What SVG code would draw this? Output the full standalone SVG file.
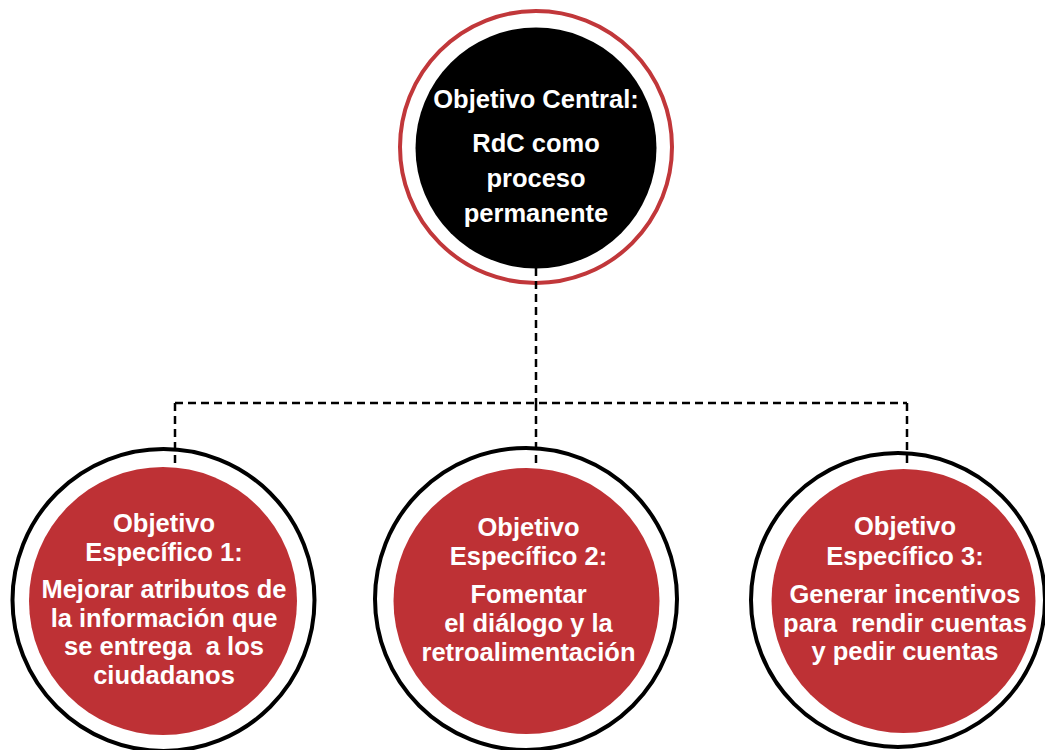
<svg xmlns="http://www.w3.org/2000/svg" width="1045" height="750" viewBox="0 0 1045 750">
  <style>
    .t { font-family: "Liberation Sans", Arial, sans-serif; font-weight: bold; font-size: 25.5px; fill: #ffffff; text-anchor: middle; }
    .ring { fill: #ffffff; stroke: #000000; stroke-width: 4; }
    .core { fill: #BE3135; }
    .conn { fill: none; stroke: #000000; stroke-width: 2.5; stroke-dasharray: 8 5; }
  </style>
  <rect width="1045" height="750" fill="#ffffff"/>
  <g id="central">
    <circle cx="536" cy="147" r="136" fill="#ffffff" stroke="#C1373A" stroke-width="4"/>
    <circle cx="536" cy="148" r="120.5" fill="#000000"/>
    <text class="t" x="536" y="108">Objetivo Central:</text>
    <text class="t" x="536" y="152">RdC como</text>
    <text class="t" x="536" y="187">proceso</text>
    <text class="t" x="536" y="222">permanente</text>
  </g>
  <g id="especifico1">
    <circle class="ring" cx="163.5" cy="600" r="151"/>
    <circle class="core" cx="163" cy="601" r="134"/>
    <text class="t" x="164" y="532">Objetivo</text>
    <text class="t" x="164" y="561">Específico 1:</text>
    <text class="t" x="164" y="598">Mejorar atributos de</text>
    <text class="t" x="164" y="627">la información que</text>
    <text class="t" x="164" y="655" xml:space="preserve">se entrega  a los</text>
    <text class="t" x="164" y="684">ciudadanos</text>
  </g>
  <g id="especifico2">
    <circle class="ring" cx="526" cy="599" r="151"/>
    <circle class="core" cx="526.5" cy="601" r="133"/>
    <text class="t" x="528.5" y="536">Objetivo</text>
    <text class="t" x="528.5" y="565">Específico 2:</text>
    <text class="t" x="528.5" y="603">Fomentar</text>
    <text class="t" x="528.5" y="632">el diálogo y la</text>
    <text class="t" x="528.5" y="661">retroalimentación</text>
  </g>
  <g id="especifico3">
    <circle class="ring" cx="898" cy="600" r="147"/>
    <circle class="core" cx="903.5" cy="601" r="132"/>
    <text class="t" x="905" y="535">Objetivo</text>
    <text class="t" x="905" y="565">Específico 3:</text>
    <text class="t" x="905" y="603">Generar incentivos</text>
    <text class="t" x="905" y="632" xml:space="preserve">para  rendir cuentas</text>
    <text class="t" x="905" y="660">y pedir cuentas</text>
  </g>
  <g id="connectors">
    <path class="conn" d="M536 268 V403"/>
    <path class="conn" d="M175 403 H907"/>
    <path class="conn" d="M175 403 V466"/>
    <path class="conn" d="M536 403 V466"/>
    <path class="conn" d="M907 403 V466"/>
  </g>
</svg>
